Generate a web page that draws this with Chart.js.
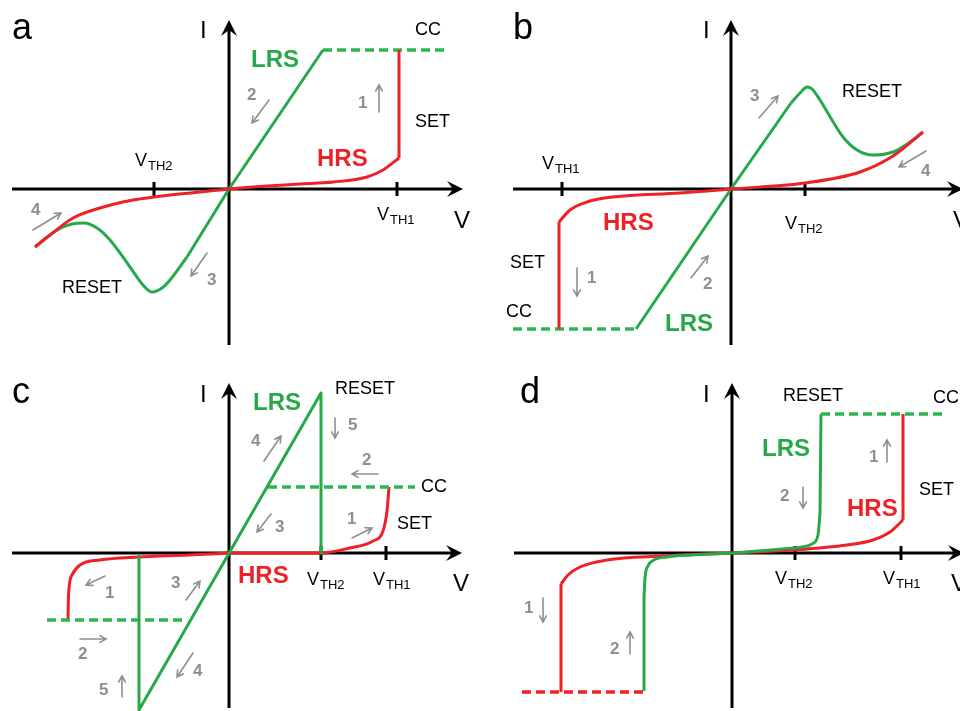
<!DOCTYPE html>
<html>
<head>
<meta charset="utf-8">
<script src="https://cdn.jsdelivr.net/npm/chart.js@4.4.0/dist/chart.umd.min.js"></script>
<style>
html, body { margin: 0; padding: 0; background: #fff; }
#wrap { position: relative; width: 960px; height: 711px; overflow: hidden; }
canvas { position: absolute; }
</style>
</head>
<body>
<div id="wrap">
<canvas id="pa" width="480" height="355" style="left:0;top:0"></canvas>
<canvas id="pb" width="480" height="355" style="left:480px;top:0"></canvas>
<canvas id="pc" width="480" height="356" style="left:0;top:355px"></canvas>
<canvas id="pd" width="480" height="356" style="left:480px;top:355px"></canvas>
</div>
<script>
// I-V sketches, values are [V, I] in arbitrary units (origin = axis crossing)

// panel a : unipolar, positive set
const hrsA      = [[-194,-58],[-179,-46],[-156,-29],[-129,-19],[-96,-11],[-75,-8],[-29,-3],[0,0],[38,3],[71,5],[104,7],[138,12],[154,19],[170,31]];
const setA      = [[170,31],[170,139]];
const lrsOnA    = [[-42,-68],[0,0],[94,139]];
const lrsResetA = [[-194,-58],[-179,-46],[-168,-39],[-157,-35],[-145,-34],[-132,-39],[-119,-51],[-99,-78],[-86,-96],[-77,-103],[-67,-99],[-59,-91],[-42,-68]];
const ccA       = [[94,139],[218,139]];

// panel b : unipolar, negative set
const hrsB      = [[-172,-33],[-161,-21],[-144,-13],[-118,-8],[-51,-4],[0,0],[74,6],[129,17],[162,33],[192,57]];
const setB      = [[-172,-140],[-172,-33]];
const lrsOnB    = [[-95,-140],[0,0],[60,86]];
const lrsResetB = [[60,86],[70,97],[76,102],[81,100],[89,89],[101,69],[112,52],[126,39],[142,34],[162,37],[179,47],[192,57]];
const ccB       = [[-218,-140],[-95,-140]];

// panel c : bipolar
const lrsC    = [[-90,-3],[-90,-157],[92,160],[92,0]];
const ccPosC  = [[39,66],[186,66]];
const ccNegC  = [[-182,-67],[-42,-67]];
const hrsPosC = [[0,0],[92,0],[121,5],[144,12],[154,22],[158,42],[160,66]];
const hrsNegC = [[-161,-67],[-160.5,-42],[-157,-22],[-149,-12],[-129,-7],[-91,-4],[-40,-2],[0,0]];

// panel d : threshold switching
const lrsD     = [[-88,-45],[-87,-25],[-84,-13],[-78,-7],[-65,-4],[-40,-2],[0,0],[50,4],[70,6],[80,9],[86,18],[88,40]];
const lrsUpD   = [[88,40],[89,139]];
const lrsDownD = [[-88,-138],[-88,-45]];
const ccD      = [[89,139],[210,139]];
const hrsD     = [[-171,-31],[-164,-22],[-152,-14],[-125,-7],[-69,-3],[0,0],[61,3],[115,8],[141,13],[158,21],[171,33]];
const setD     = [[171,33],[171,139]];
const setNegD  = [[-171,-139],[-171,-31]];
const ccNegD   = [[-210,-139],[-89,-139]];

// threshold tick positions on V
const ticksA = [-75, 168];
const ticksB = [-169, 74];
const ticksC = [92, 157];
const ticksD = [63, 169];

const GREEN = '#27a94a';
const GREEN_DASH = '#2db550';
const RED = '#ee2127';
const GRAY = '#8f8f8f';
const FONT = '"Liberation Sans", Arial, sans-serif';

function ser(points, color, kind) {
  const ds = {
    data: points.map(([x, y]) => ({ x, y })),
    borderColor: color,
    borderWidth: 3,
    showLine: true,
    pointRadius: 0,
    fill: false,
    tension: 0,
    borderCapStyle: 'butt',
    borderJoinStyle: 'round'
  };
  if (kind === 'curve') ds.cubicInterpolationMode = 'monotone';
  if (kind === 'dash') { ds.borderDash = [9, 5]; ds.borderWidth = 3.5; }
  return ds;
}

const panels = [
  {
    id: 'pa', ox: 229, oy: 189, w: 480, h: 355,
    xAxis: [-217, 234], yAxis: [-156, 169], ticks: ticksA,
    series: [
      ser(setA, RED), ser(hrsA, RED, 'curve'),
      ser(lrsOnA, GREEN), ser(lrsResetA, GREEN, 'curve'), ser(ccA, GREEN_DASH, 'dash')
    ],
    texts: [
      ['a', -217, 150, 'panel'], ['I', -29, 151, 'axis'], ['V', 225, -39, 'axis'],
      ['CC', 186, 154, 'note'], ['SET', 186, 62, 'note'], ['RESET', -167, -104, 'note'],
      ['LRS', 22, 122, 'lrs'], ['HRS', 88, 23, 'hrs'],
      ['TH2', -94, 23, 'vth'], ['TH1', 148, -31, 'vth'],
      ['2', 18, 89, 'step'], ['1', 129, 81, 'step'], ['4', -198, -26, 'step'], ['3', -22, -96, 'step']
    ],
    arrows: [[40,89,23,66],[150,77,150,104],[-196,-41,-168,-24],[-22,-64,-38,-87]]
  },
  {
    id: 'pb', ox: 251, oy: 189, w: 480, h: 355,
    xAxis: [-218, 232], yAxis: [-156, 169], ticks: ticksB,
    series: [
      ser(setB, RED), ser(hrsB, RED, 'curve'),
      ser(lrsOnB, GREEN), ser(lrsResetB, GREEN, 'curve'), ser(ccB, GREEN_DASH, 'dash')
    ],
    texts: [
      ['b', -218, 150, 'panel'], ['I', -28, 151, 'axis'], ['V', 222, -39, 'axis'],
      ['RESET', 111, 92, 'note'], ['SET', -221, -79, 'note'], ['CC', -225, -128, 'note'],
      ['HRS', -128, -41, 'hrs'], ['LRS', -66, -142, 'lrs'],
      ['TH1', -189, 20, 'vth'], ['TH2', 54, -40, 'vth'],
      ['3', 19, 88, 'step'], ['4', 190, 13, 'step'], ['1', -144, -94, 'step'], ['2', -28, -100, 'step']
    ],
    arrows: [[28,71,47,93],[195,38,168,22],[-40,-89,-23,-67],[-154,-79,-154,-107]]
  },
  {
    id: 'pc', ox: 229, oy: 198, w: 480, h: 356,
    xAxis: [-217, 233], yAxis: [-155, 170], ticks: ticksC,
    series: [
      ser(lrsC, GREEN), ser(ccPosC, GREEN_DASH, 'dash'), ser(ccNegC, GREEN_DASH, 'dash'),
      ser(hrsPosC, RED, 'curve'), ser(hrsNegC, RED, 'curve')
    ],
    texts: [
      ['c', -217, 150, 'panel'], ['I', -29, 151, 'axis'], ['V', 224, -38, 'axis'],
      ['RESET', 106, 159, 'note'], ['CC', 192, 61, 'note'], ['SET', 168, 24, 'note'],
      ['LRS', 24, 143, 'lrs'], ['HRS', 9, -30, 'hrs'],
      ['TH2', 78, -32, 'vth'], ['TH1', 144, -32, 'vth'],
      ['5', 119, 123, 'step'], ['4', 22, 107, 'step'], ['2', 133, 88, 'step'], ['1', 118, 29, 'step'], ['3', 46, 21, 'step'],
      ['1', -124, -45, 'step'], ['3', -58, -35, 'step'], ['2', -151, -106, 'step'], ['4', -36, -123, 'step'], ['5', -130, -142, 'step']
    ],
    arrows: [[106,135,106,115],[149,79,123,79],[35,92,52,117],[42,39,28,21],[123,15,143,25],
             [-124,-23,-143,-32],[-43,-47,-29,-28],[-149,-86,-123,-86],[-36,-100,-52,-124],[-107,-144,-107,-123]]
  },
  {
    id: 'pd', ox: 252, oy: 198, w: 480, h: 356,
    xAxis: [-218, 232], yAxis: [-155, 170], ticks: ticksD,
    series: [
      ser(lrsD, GREEN, 'curve'), ser(lrsUpD, GREEN), ser(lrsDownD, GREEN), ser(ccD, GREEN_DASH, 'dash'),
      ser(hrsD, RED, 'curve'), ser(setD, RED), ser(setNegD, RED), ser(ccNegD, RED, 'dash')
    ],
    texts: [
      ['d', -212, 150, 'panel'], ['I', -29, 151, 'axis'], ['V', 219, -38, 'axis'],
      ['RESET', 51, 152, 'note'], ['CC', 201, 150, 'note'], ['SET', 187, 58, 'note'],
      ['LRS', 30, 97, 'lrs'], ['HRS', 115, 37, 'hrs'],
      ['TH2', 43, -31, 'vth'], ['TH1', 151, -31, 'vth'],
      ['1', 137, 91, 'step'], ['2', 48, 52, 'step'], ['1', -208, -60, 'step'], ['2', -122, -101, 'step']
    ],
    arrows: [[155,91,155,113],[71,66,71,45],[-189,-45,-189,-69],[-102,-101,-102,-79]]
  }
];

const textStyles = {
  panel: ['36px ' + FONT, '#000'],
  axis:  ['24px ' + FONT, '#000'],
  note:  ['18px ' + FONT, '#000'],
  lrs:   ['bold 24px ' + FONT, GREEN],
  hrs:   ['bold 24px ' + FONT, RED],
  step:  ['bold 17px ' + FONT, GRAY]
};

function head(ctx, tx, ty, ang) {
  ctx.save();
  ctx.translate(tx, ty);
  ctx.rotate(ang);
  ctx.beginPath();
  ctx.moveTo(0, 0);
  ctx.lineTo(-16, -8);
  ctx.lineTo(-10, 0);
  ctx.lineTo(-16, 8);
  ctx.closePath();
  ctx.fill();
  ctx.restore();
}

const axesPlugin = {
  id: 'ivAxes',
  beforeDatasetsDraw(chart, args, opts) {
    const p = opts.panel;
    const { ctx } = chart;
    const X = v => chart.scales.x.getPixelForValue(v);
    const Y = v => chart.scales.y.getPixelForValue(v);
    ctx.save();
    ctx.strokeStyle = '#000';
    ctx.fillStyle = '#000';
    ctx.lineWidth = 3;
    ctx.beginPath();
    ctx.moveTo(X(p.xAxis[0]), Y(0));
    ctx.lineTo(X(p.xAxis[1]) - 10, Y(0));
    ctx.moveTo(X(0), Y(p.yAxis[0]));
    ctx.lineTo(X(0), Y(p.yAxis[1]) + 10);
    p.ticks.forEach(t => {
      ctx.moveTo(X(t), Y(0) - 7);
      ctx.lineTo(X(t), Y(0) + 7);
    });
    ctx.stroke();
    head(ctx, X(p.xAxis[1]), Y(0), 0);
    head(ctx, X(0), Y(p.yAxis[1]), -Math.PI / 2);
    ctx.restore();
  },
  afterDatasetsDraw(chart, args, opts) {
    const p = opts.panel;
    const { ctx } = chart;
    const X = v => chart.scales.x.getPixelForValue(v);
    const Y = v => chart.scales.y.getPixelForValue(v);
    ctx.save();
    // little grey direction arrows
    ctx.strokeStyle = GRAY;
    ctx.lineWidth = 1.6;
    ctx.lineCap = 'round';
    p.arrows.forEach(([v0, i0, v1, i1]) => {
      const x0 = X(v0), y0 = Y(i0), x1 = X(v1), y1 = Y(i1);
      const a = Math.atan2(y1 - y0, x1 - x0);
      ctx.beginPath();
      ctx.moveTo(x0, y0);
      ctx.lineTo(x1, y1);
      ctx.moveTo(x1 - 7 * Math.cos(a - 0.5), y1 - 7 * Math.sin(a - 0.5));
      ctx.lineTo(x1, y1);
      ctx.lineTo(x1 - 7 * Math.cos(a + 0.5), y1 - 7 * Math.sin(a + 0.5));
      ctx.stroke();
    });
    // labels
    ctx.textAlign = 'left';
    ctx.textBaseline = 'alphabetic';
    p.texts.forEach(([txt, v, i, kind]) => {
      const x = X(v), y = Y(i);
      if (kind === 'vth') {
        ctx.fillStyle = '#000';
        ctx.font = '18px ' + FONT;
        ctx.fillText('V', x, y);
        const w = ctx.measureText('V').width;
        ctx.font = '13px ' + FONT;
        ctx.fillText(txt, x + w + 1, y + 4);
        return;
      }
      const [font, color] = textStyles[kind];
      ctx.font = font;
      ctx.fillStyle = color;
      ctx.fillText(txt, x, y);
    });
    ctx.restore();
  }
};

function makePanel(p) {
  const ctx = document.getElementById(p.id).getContext('2d');
  return new Chart(ctx, {
    type: 'scatter',
    data: { datasets: p.series },
    options: {
      responsive: false,
      animation: false,
      events: [],
      layout: { padding: 0 },
      plugins: {
        legend: { display: false },
        tooltip: { enabled: false },
        ivAxes: { panel: p }
      },
      scales: {
        x: { type: 'linear', display: false, min: -p.ox, max: p.w - p.ox },
        y: { type: 'linear', display: false, min: p.oy - p.h, max: p.oy }
      }
    },
    plugins: [axesPlugin]
  });
}

window.addEventListener('load', () => {
  panels.forEach(makePanel);
});
</script>
</body>
</html>
